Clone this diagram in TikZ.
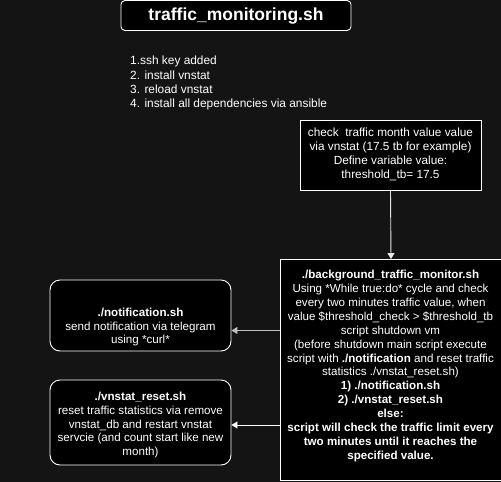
\documentclass[tikz,border=0pt]{standalone}
\usepackage{fontspec}
\setmainfont{Liberation Sans}
\usetikzlibrary{arrows.meta}
\definecolor{bgc}{HTML}{141414}
\definecolor{linec}{HTML}{E6E6E6}
\begin{document}
\begin{tikzpicture}[x=1pt,y=-1pt,
  box/.style={draw=white,fill=black,line width=0.9pt,inner sep=0pt},
  rbox/.style={box,rounded corners=10pt},
  txt/.style={text=white,align=center,inner sep=0pt,font=\fontsize{11.6}{13.9}\selectfont},
  conn/.style={draw=linec,line width=0.9pt,-{Triangle[width=7pt,length=6pt]}}
]
\fill[bgc] (0,0) rectangle (501,482);
\useasboundingbox (0,0) rectangle (501,482);

% title
\node[box,rounded corners=4pt,minimum width=230pt,minimum height=30pt] (title) at (236,15.5) {};
\node[text=white,inner sep=0pt,font=\fontsize{17.5}{20}\selectfont\bfseries] (titletxt) at (236,16) {traffic\_monitoring.sh};

% steps
\node[txt,align=left,anchor=north west,font=\fontsize{11.9}{14.3}\selectfont] (steps) at (130,56) {1.ssh key added\\ 2. install vnstat\\ 3. reload vnstat\\ 4. install all dependencies via ansible};

% threshold
\node[box,minimum width=181pt,minimum height=70pt] (thr) at (390.5,155) {};
\node[txt,font=\fontsize{11.8}{14}\selectfont] (thrtxt) at (390.5,154.5) {check\ \ traffic month value value\\ via vnstat (17.5 tb for example)\\ Define variable value:\\ threshold\_tb= 17.5};

% main
\node[box,minimum width=222pt,minimum height=221pt] (main) at (391,370) {};
\node[txt] (maintxt) at (390.5,366) {\textbf{./background\_traffic\_monitor.sh}\\
Using *While true:do* cycle and check\\
every two minutes traffic value, when\\
value \$threshold\_check > \$threshold\_tb\\
script shutdown vm\\
(before shutdown main script execute\\
script with \textbf{./notification} and reset traffic\\
statistics ./vnstat\_reset.sh)\\
\textbf{1) ./notification.sh}\\
\textbf{2) ./vnstat\_reset.sh}\\
\textbf{else:}\\
\textbf{script will check the traffic limit every}\\
\textbf{two minutes until it reaches the}\\
\textbf{specified value.}};

% notification
\node[rbox,minimum width=181pt,minimum height=71pt] (notif) at (140.5,315.5) {};
\node[txt] (notiftxt) at (140.5,327) {\textbf{./notification.sh}\\ send notification via telegram\\ using *curl*};

% reset
\node[rbox,minimum width=181pt,minimum height=85pt] (reset) at (140.5,422.5) {};
\node[txt] (resettxt) at (140.5,425) {\textbf{./vnstat\_reset.sh}\\ reset traffic statistics via remove\\ vnstat\_db and restart vnstat\\ servcie (and count start like new\\ month)};

% connectors
\draw[conn] (thr.south) -- (main.north);
\draw[conn,draw=lightgray] (main.west |- notif.east) ++(0,15) -- ([yshift=-15pt]notif.east);
\draw[conn,draw=white] (main.west |- reset.east) ++(0,2.5) -- ([yshift=-2.5pt]reset.east);
\end{tikzpicture}
\end{document}
